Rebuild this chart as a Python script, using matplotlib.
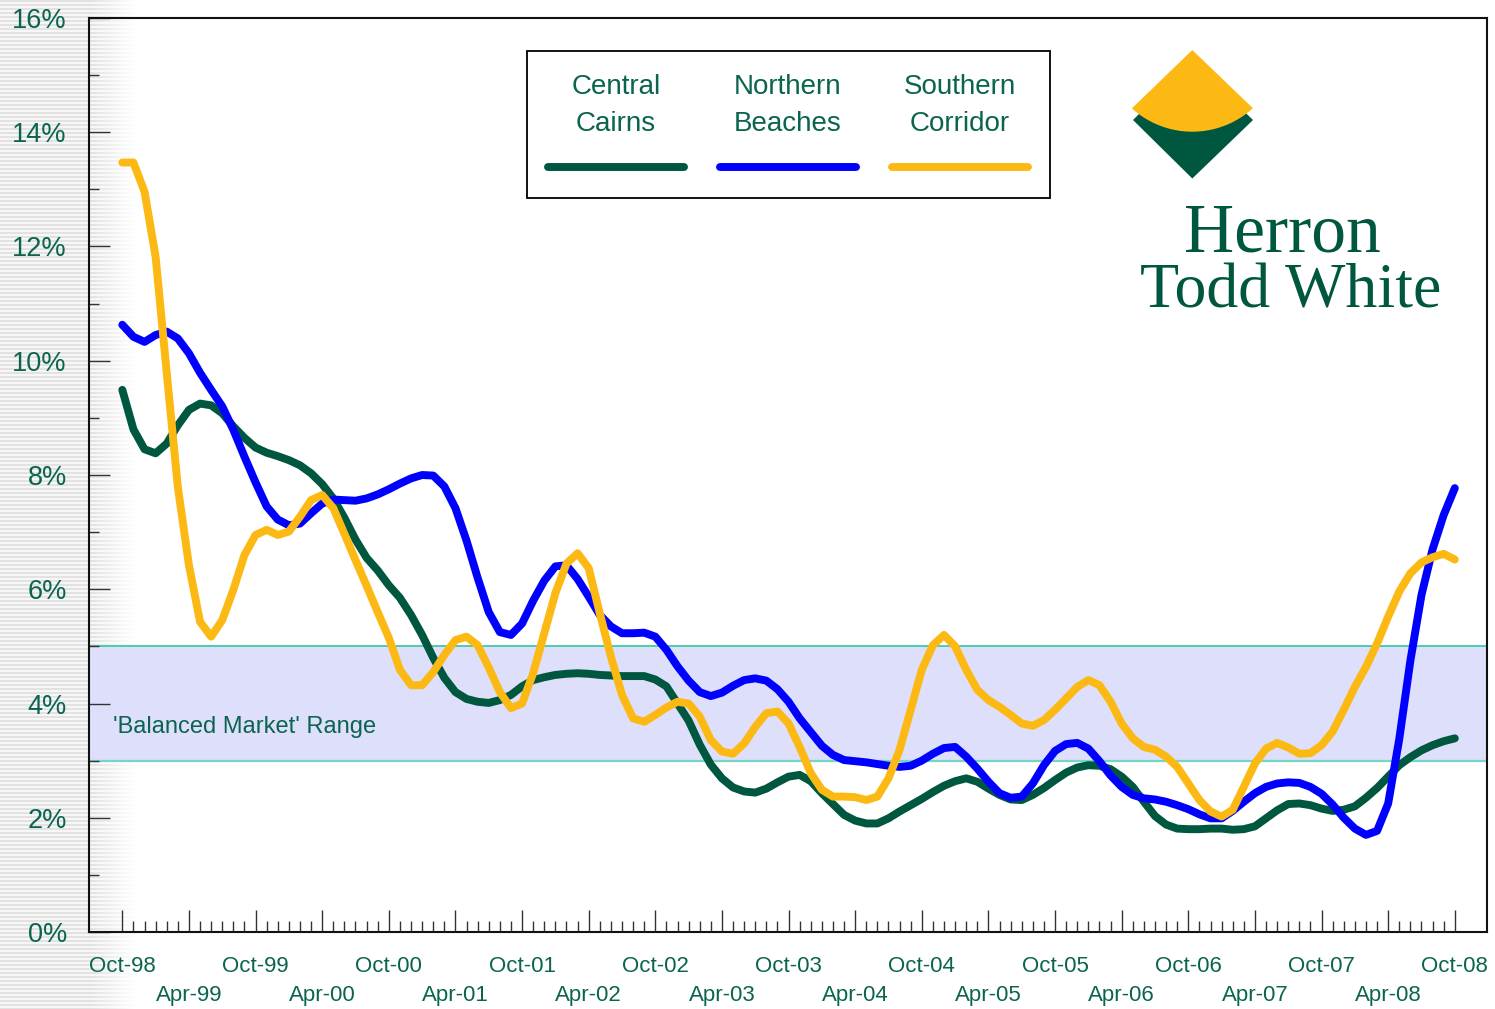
import numpy as np
import matplotlib
matplotlib.use('Agg')
import matplotlib.pyplot as plt
from matplotlib.patches import Rectangle, Polygon
from matplotlib.lines import Line2D
from matplotlib.ticker import FixedLocator, MultipleLocator
from matplotlib.transforms import blended_transform_factory

W, H = 1495, 1009
plt.rcParams['font.family'] = ['Liberation Sans', 'DejaVu Sans']

# ---------------- data ----------------
series_names = ['Central Cairns', 'Northern Beaches', 'Southern Corridor']
series_colors = ['#00573F', '#0000FF', '#FDB913']

central_cairns = [
    9.49, 8.80, 8.45, 8.38, 8.55, 8.87, 9.14, 9.25, 9.22, 9.08,
    8.85, 8.65, 8.48, 8.39, 8.33, 8.26, 8.17, 8.03, 7.84, 7.59,
    7.25, 6.87, 6.55, 6.33, 6.07, 5.85, 5.55, 5.20, 4.80, 4.45,
    4.20, 4.08, 4.03, 4.01, 4.06, 4.15, 4.30, 4.41, 4.46, 4.50,
    4.52, 4.53, 4.52, 4.50, 4.49, 4.48, 4.48, 4.48, 4.42, 4.30,
    4.00, 3.70, 3.28, 2.93, 2.69, 2.53, 2.46, 2.44, 2.51, 2.62,
    2.72, 2.75, 2.64, 2.43, 2.24, 2.05, 1.95, 1.90, 1.90, 1.99,
    2.11, 2.22, 2.33, 2.45, 2.56, 2.64, 2.69, 2.63, 2.51, 2.40,
    2.32, 2.31, 2.40, 2.52, 2.66, 2.79, 2.88, 2.92, 2.91, 2.85,
    2.72, 2.54, 2.28, 2.03, 1.88, 1.81, 1.80, 1.80, 1.81, 1.81,
    1.79, 1.80, 1.85, 1.99, 2.13, 2.24, 2.25, 2.22, 2.16, 2.12,
    2.14, 2.20, 2.35, 2.52, 2.72, 2.92, 3.06, 3.18, 3.27, 3.34,
    3.39,
]

northern_beaches = [
    10.63, 10.42, 10.33, 10.45, 10.51, 10.39, 10.13, 9.79, 9.49, 9.20,
    8.79, 8.32, 7.87, 7.45, 7.22, 7.12, 7.15, 7.33, 7.50, 7.57,
    7.56, 7.55, 7.59, 7.66, 7.75, 7.85, 7.94, 8.00, 7.99, 7.80,
    7.42, 6.85, 6.20, 5.60, 5.25, 5.20, 5.40, 5.80, 6.15, 6.40,
    6.42, 6.18, 5.87, 5.55, 5.35, 5.23, 5.23, 5.24, 5.17, 4.94,
    4.65, 4.40, 4.20, 4.13, 4.19, 4.31, 4.41, 4.44, 4.40, 4.25,
    4.03, 3.74, 3.50, 3.26, 3.10, 3.01, 2.99, 2.97, 2.94, 2.91,
    2.89, 2.91, 3.00, 3.12, 3.22, 3.24, 3.07, 2.86, 2.63, 2.43,
    2.35, 2.37, 2.60, 2.92, 3.17, 3.29, 3.31, 3.21, 2.99, 2.74,
    2.54, 2.40, 2.34, 2.32, 2.28, 2.22, 2.15, 2.06, 1.99, 1.99,
    2.12, 2.28, 2.43, 2.54, 2.60, 2.62, 2.61, 2.54, 2.42, 2.23,
    2.00, 1.81, 1.70, 1.77, 2.25, 3.38, 4.75, 5.90, 6.70, 7.30,
    7.77,
]

southern_corridor = [
    13.47, 13.47, 12.96, 11.82, 9.79, 7.79, 6.42, 5.43, 5.17, 5.46,
    5.99, 6.60, 6.95, 7.04, 6.95, 7.01, 7.27, 7.56, 7.65, 7.42,
    6.97, 6.51, 6.06, 5.60, 5.15, 4.59, 4.32, 4.32, 4.55, 4.85,
    5.11, 5.17, 5.02, 4.63, 4.20, 3.92, 4.00, 4.53, 5.23, 5.93,
    6.45, 6.63, 6.37, 5.58, 4.82, 4.15, 3.74, 3.68, 3.80, 3.93,
    4.03, 4.00, 3.77, 3.36, 3.16, 3.12, 3.30, 3.59, 3.83, 3.86,
    3.65, 3.24, 2.78, 2.49, 2.37, 2.37, 2.36, 2.31, 2.37, 2.69,
    3.19, 3.89, 4.59, 5.02, 5.20, 5.00, 4.59, 4.24, 4.06, 3.94,
    3.80, 3.65, 3.61, 3.71, 3.89, 4.09, 4.29, 4.41, 4.32, 4.03,
    3.65, 3.39, 3.24, 3.19, 3.07, 2.89, 2.60, 2.31, 2.11, 2.02,
    2.14, 2.54, 2.95, 3.21, 3.31, 3.23, 3.12, 3.13, 3.27, 3.51,
    3.89, 4.29, 4.64, 5.05, 5.52, 5.96, 6.28, 6.47, 6.56, 6.62,
    6.52,
]

x_tick_labels = ['Oct-98', 'Apr-99', 'Oct-99', 'Apr-00', 'Oct-00', 'Apr-01',
                 'Oct-01', 'Apr-02', 'Oct-02', 'Apr-03', 'Oct-03', 'Apr-04',
                 'Oct-04', 'Apr-05', 'Oct-05', 'Apr-06', 'Oct-06', 'Apr-07',
                 'Oct-07', 'Apr-08', 'Oct-08']
y_ticks = [0, 2, 4, 6, 8, 10, 12, 14, 16]
balanced_range = (3, 5)
balanced_label = "'Balanced Market' Range"
logo_lines = ['Herron', 'Todd White']

# ---------------- figure ----------------
TEXT_GREEN = '#0A6450'
LOGO_GREEN = '#00573F'
LOGO_YELLOW = '#FDB913'

fig = plt.figure(figsize=(W / 100, H / 100), dpi=100, facecolor='white')


def P(x, y):
    return (x / W, 1 - y / H)


# striped fading background on the left
bw = 140
rows = np.arange(H)
shade = np.where((rows // 2) % 2 == 0, 0.89, 0.97)
img = np.ones((H, bw, 4))
img[:, :, 0] = shade[:, None]
img[:, :, 1] = shade[:, None]
img[:, :, 2] = shade[:, None]
cols = np.arange(bw)
alpha = np.clip((135 - cols) / 45.0, 0, 1)
img[:, :, 3] = alpha[None, :]
fig.figimage(img, xo=0, yo=0, origin='upper', zorder=-5)

ax_l, ax_r, ax_t, ax_b = 89, 1487, 18, 932
ax = fig.add_axes([ax_l / W, 1 - ax_b / H, (ax_r - ax_l) / W, (ax_b - ax_t) / H])
ax.set_facecolor('none')

months = np.arange(len(central_cairns))
n = len(months)
ax.set_xlim(-3, n - 1 + 2.9)
ax.set_ylim(0, 16)

# balanced band
ax.axhspan(balanced_range[0], balanced_range[1], facecolor='#DEDFFA', edgecolor='none', zorder=1)
ax.axhline(balanced_range[1], color='#2CC9A4', lw=1.2, zorder=1.5)
ax.axhline(balanced_range[0], color='#74D6C4', lw=1.6, zorder=1.5)
ax.text(0.017, (balanced_range[0] + balanced_range[1]) / 2 - 0.42, balanced_label,
        transform=blended_transform_factory(ax.transAxes, ax.transData),
        fontsize=17, color=TEXT_GREEN, va='center', ha='left', zorder=2)

data = [central_cairns, northern_beaches, southern_corridor]
for i, (vals, col) in enumerate(zip(data, series_colors)):
    ax.plot(months, vals, color=col, lw=5.7, solid_capstyle='round',
            solid_joinstyle='round', zorder=3 + i)

# ticks
major_x = list(range(0, n, 6))
ax.xaxis.set_major_locator(FixedLocator(major_x))
ax.xaxis.set_minor_locator(FixedLocator(list(range(0, n))))
ax.set_xticklabels([lab if k % 2 == 0 else '\n' + lab for k, lab in enumerate(x_tick_labels)],
                   linespacing=1.5)
ax.yaxis.set_major_locator(FixedLocator(y_ticks))
ax.yaxis.set_minor_locator(MultipleLocator(1))
ax.set_yticklabels([f'{v}%' for v in y_ticks])

ax.tick_params(axis='x', which='major', direction='in', length=15.8, width=1.0,
               color='#333333', pad=17, labelsize=16, labelcolor=TEXT_GREEN)
ax.tick_params(axis='x', which='minor', direction='in', length=8.2, width=1.0, color='#333333')
ax.tick_params(axis='y', which='major', direction='in', length=15, width=1.0,
               color='#333333', pad=16, labelsize=19.5, labelcolor=TEXT_GREEN)
ax.tick_params(axis='y', which='minor', direction='in', length=7.2, width=1.0, color='#333333')

for s in ax.spines.values():
    s.set_color('#111111')
    s.set_linewidth(1.5)
    s.set_zorder(10)

# ---------------- legend box ----------------
lx0, ly0, lx1, ly1 = 527, 51, 1050, 198
fig.add_artist(Rectangle(P(lx0, ly1), (lx1 - lx0) / W, (ly1 - ly0) / H,
                         transform=fig.transFigure, facecolor='white',
                         edgecolor='black', lw=1.3, zorder=20))
centers = [616, 788, 960]
for name, col, cx in zip(series_names, series_colors, centers):
    parts = name.split(' ')
    for j, part in enumerate(parts):
        fig.text(*P(cx, 87 + 37 * j), part, ha='center', va='center',
                 fontsize=20, color=TEXT_GREEN, zorder=21)
    xa, ya = P(cx - 68, 167)
    xb, yb = P(cx + 68, 167)
    fig.add_artist(Line2D([xa, xb], [ya, yb], transform=fig.transFigure,
                          color=col, lw=5.7, solid_capstyle='round', zorder=21))

# ---------------- logo ----------------
cx_logo = 1192.3
r = 89.9
ccy = 131.7 - r
xs = np.linspace(1253, 1132, 40)
arc = [(x, ccy + np.sqrt(max(r ** 2 - (x - cx_logo) ** 2, 0))) for x in xs]
green_poly = [(1133, 120), (1192.3, 61), (1253, 120), (1192.3, 178.5)]
yellow_poly = [(1192.3, 50), (1253, 108.3)] + arc + [(1132, 108.3)]
fig.add_artist(Polygon([P(*p) for p in green_poly], closed=True, transform=fig.transFigure,
                       facecolor=LOGO_GREEN, edgecolor='none', zorder=22))
fig.add_artist(Polygon([P(*p) for p in yellow_poly], closed=True, transform=fig.transFigure,
                       facecolor=LOGO_YELLOW, edgecolor='none', zorder=23))
fig.text(*P(1282, 251), logo_lines[0], ha='center', va='baseline', fontsize=50,
         family='Liberation Serif', color=LOGO_GREEN, zorder=24)
fig.text(*P(1291, 307), logo_lines[1], ha='center', va='baseline', fontsize=46,
         family='Liberation Serif', color=LOGO_GREEN, zorder=24)

fig.savefig('out.png', dpi=100, facecolor='white')
